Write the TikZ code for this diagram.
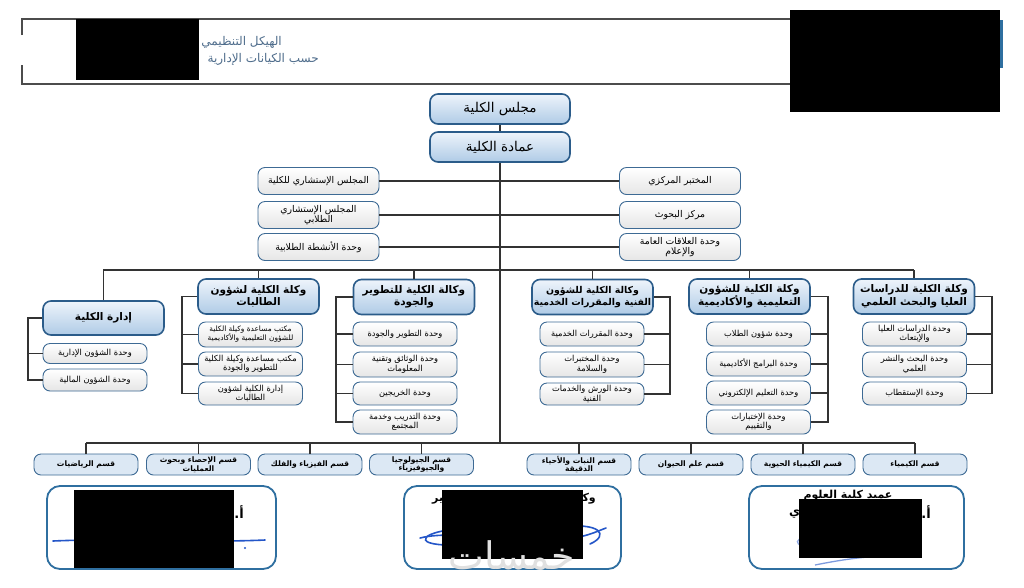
\documentclass[tikz,border=0pt]{standalone}
\usepackage{fontspec}
\newfontfamily\arabicfont[Script=Arabic]{DejaVu Sans}
\TeXXeTstate=1
\newcommand{\AR}[1]{\beginR #1\endR}
\definecolor{dkblue}{HTML}{2B5C8A}
\definecolor{topA}{HTML}{EEF4FB}
\definecolor{topB}{HTML}{AFCBE6}
\definecolor{subblue}{HTML}{3D6A94}
\definecolor{deptfill}{HTML}{DCE8F4}
\definecolor{sigblue}{HTML}{2F6FA0}
\definecolor{headtxt}{HTML}{4F6D8C}
\definecolor{inkblue}{HTML}{2456C8}
\begin{document}
\begin{tikzpicture}[x=1pt,y=-1pt,
  line/.style={draw=black!80, line width=1.1},
  topbox/.style={draw=dkblue, line width=1.6, rounded corners=8, top color=topA, bottom color=topB, minimum width=140, minimum height=30, inner sep=0, font=\arabicfont\fontsize{13.5}{15}\selectfont},
  vbox/.style={draw=dkblue, line width=1.6, rounded corners=8, top color=topA, bottom color=topB, minimum width=121, minimum height=35, align=center, inner sep=0, font=\arabicfont\bfseries\fontsize{10.5}{12.5}\selectfont},
  subbox/.style={draw=subblue, line width=0.9, rounded corners=7, top color=white, bottom color=black!10, minimum width=104, minimum height=24, align=center, inner sep=0, font=\arabicfont\fontsize{8.3}{9.6}\selectfont},
  advbox/.style={subbox, minimum width=121, minimum height=27, font=\arabicfont\fontsize{9.3}{10.6}\selectfont},
  deptbox/.style={draw=subblue, line width=0.9, rounded corners=7, fill=deptfill, minimum width=104, minimum height=21, align=center, inner sep=0, font=\arabicfont\bfseries\fontsize{7.6}{8.6}\selectfont},
  sigbox/.style={draw=sigblue, line width=1.8, rounded corners=13},
  redact/.style={fill=black},
  ink/.style={draw=inkblue, line width=1.6, line cap=round},
  sigtext/.style={font=\arabicfont\bfseries\fontsize{11}{13}\selectfont, inner sep=0}
]
\useasboundingbox (0,0) rectangle (1024,587);
\fill[white] (0,0) rectangle (1024,587);

% ---------- header ----------
\draw[draw=black!70, line width=1.1] (22,35) -- (22,19) -- (792,19);
\draw[draw=black!70, line width=1.1] (22,65) -- (22,84) -- (792,84);
\fill[sigblue] (994,20) rectangle (1003,68);
\node[anchor=east, text=headtxt, inner sep=0, font=\arabicfont\fontsize{12}{14}\selectfont] (h1) at (282,42) {\AR{الهيكل التنظيمي}};
\node[anchor=east, text=headtxt, inner sep=0, font=\arabicfont\fontsize{12}{14}\selectfont] (h2) at (319,59) {\AR{حسب الكيانات الإدارية}};
\fill[redact] (76,19) rectangle (199,80);
\fill[redact] (790,10) rectangle (1000,112);

% ---------- top ----------
\node[topbox] (council) at (500,109) {\AR{مجلس الكلية}};
\node[topbox] (dean) at (500,147) {\AR{عمادة الكلية}};

\node[advbox] (l1) at (318.5,181) {\AR{المجلس الإستشاري للكلية}};
\node[advbox] (l2) at (318.5,215) {\AR{المجلس الإستشاري}\\\AR{الطلابي}};
\node[advbox] (l3) at (318.5,247) {\AR{وحدة الأنشطة الطلابية}};
\node[advbox] (r1) at (680,181) {\AR{المختبر المركزي}};
\node[advbox] (r2) at (680,215) {\AR{مركز البحوث}};
\node[advbox] (r3) at (680,247) {\AR{وحدة العلاقات العامة}\\\AR{والإعلام}};

\coordinate (busL) at (103,270);
\coordinate (busR) at (914,270);
\coordinate (dbusL) at (86,443);
\coordinate (dbusR) at (915,443);
\coordinate (trunkB) at (500,443);

\draw[line] (council) -- (dean);
\draw[line] (dean.south) -- (trunkB);
\draw[line] (l1.east) -- (r1.west);
\draw[line] (l2.east) -- (r2.west);
\draw[line] (l3.east) -- (r3.west);
\draw[line] (busL) -- (busR);

% ---------- vice deans ----------
\node[vbox, minimum height=34] (adm) at (103.5,318) {\AR{إدارة الكلية}};
\node[vbox] (fem) at (258.5,296.5) {\AR{وكلة الكلية لشؤون}\\\AR{الطالبات}};
\node[vbox] (dev) at (414,297) {\AR{وكالة الكلية للتطوير}\\\AR{والجودة}};
\node[vbox, font=\arabicfont\bfseries\fontsize{9.4}{12}\selectfont] (tec) at (592.5,297) {\AR{وكالة الكلية للشؤون}\\\AR{الفنية والمقررات الخدمية}};
\node[vbox] (aca) at (749.5,296.5) {\AR{وكلة الكلية للشؤون}\\\AR{التعليمية والأكاديمية}};
\node[vbox] (grd) at (914,296.5) {\AR{وكلة الكلية للدراسات}\\\AR{العليا والبحث العلمي}};

\foreach \n in {adm,fem,dev,tec,aca,grd} \draw[line] (\n.north) -- (\n.north |- busL);

% admin subs
\node[subbox, minimum height=20] (adm1) at (95,353.5) {\AR{وحدة الشؤون الإدارية}};
\node[subbox, minimum height=22] (adm2) at (95,380) {\AR{وحدة الشؤون المالية}};
\coordinate (admx) at (28,0);
\draw[line] (adm.west) -- (adm.west -| admx) -- (adm2.west -| admx) -- (adm2.west);
\draw[line] (adm1.west -| admx) -- (adm1.west);

% female subs
\node[subbox, minimum height=25, font=\arabicfont\fontsize{7.4}{9}\selectfont] (fem1) at (250.5,334.5) {\AR{مكتب مساعدة وكيلة الكلية}\\\AR{للشؤون التعليمية والأكاديمية}};
\node[subbox] (fem2) at (250.5,364) {\AR{مكتب مساعدة وكيلة الكلية}\\\AR{للتطوير والجودة}};
\node[subbox, minimum height=23] (fem3) at (250.5,393.5) {\AR{إدارة الكلية لشؤون}\\\AR{الطالبات}};
\coordinate (femx) at (182,0);
\draw[line] (fem.west) -- (fem.west -| femx) -- (fem3.west -| femx) -- (fem3.west);
\foreach \n in {fem1,fem2} \draw[line] (\n.west -| femx) -- (\n.west);

% development subs
\node[subbox] (dev1) at (405,334) {\AR{وحدة التطوير والجودة}};
\node[subbox, minimum height=25] (dev2) at (405,364.5) {\AR{وحدة الوثائق وتقنية}\\\AR{المعلومات}};
\node[subbox, minimum height=23] (dev3) at (405,393.5) {\AR{وحدة الخريجين}};
\node[subbox] (dev4) at (405,422) {\AR{وحدة التدريب وخدمة}\\\AR{المجتمع}};
\coordinate (devx) at (336,0);
\draw[line] (dev.west) -- (dev.west -| devx) -- (dev4.west -| devx) -- (dev4.west);
\foreach \n in {dev1,dev2,dev3} \draw[line] (\n.west -| devx) -- (\n.west);

% technical subs
\node[subbox] (tec1) at (592,334) {\AR{وحدة المقررات الخدمية}};
\node[subbox, minimum height=25] (tec2) at (592,364.5) {\AR{وحدة المختبرات}\\\AR{والسلامة}};
\node[subbox, minimum height=22] (tec3) at (592,394) {\AR{وحدة الورش والخدمات}\\\AR{الفنية}};
\coordinate (tecx) at (670,0);
\draw[line] (tec.east) -- (tec.east -| tecx) -- (tec3.east -| tecx) -- (tec3.east);
\foreach \n in {tec1,tec2} \draw[line] (\n.east -| tecx) -- (\n.east);

% academic subs
\node[subbox] (aca1) at (758.5,334) {\AR{وحدة شؤون الطلاب}};
\node[subbox] (aca2) at (758.5,364) {\AR{وحدة البرامج الأكاديمية}};
\node[subbox] (aca3) at (758.5,393) {\AR{وحدة التعليم الإلكتروني}};
\node[subbox] (aca4) at (758.5,422) {\AR{وحدة الإختبارات}\\\AR{والتقييم}};
\coordinate (acax) at (828,0);
\draw[line] (aca.east) -- (aca.east -| acax) -- (aca4.east -| acax) -- (aca4.east);
\foreach \n in {aca1,aca2,aca3} \draw[line] (\n.east -| acax) -- (\n.east);

% graduate subs
\node[subbox] (grd1) at (914.5,334) {\AR{وحدة الدراسات العليا}\\\AR{والإبتعاث}};
\node[subbox, minimum height=25] (grd2) at (914.5,364.5) {\AR{وحدة البحث والنشر}\\\AR{العلمي}};
\node[subbox, minimum height=23] (grd3) at (914.5,393.5) {\AR{وحدة الإستقطاب}};
\coordinate (grdx) at (992,0);
\draw[line] (grd.east) -- (grd.east -| grdx) -- (grd3.east -| grdx) -- (grd3.east);
\foreach \n in {grd1,grd2} \draw[line] (\n.east -| grdx) -- (\n.east);

% ---------- departments ----------
\draw[line] (dbusL) -- (dbusR);
\node[deptbox] (d1) at (86,464.5) {\AR{قسم الرياضيات}};
\node[deptbox] (d2) at (198.5,464.5) {\AR{قسم الإحصاء وبحوث}\\\AR{العمليات}};
\node[deptbox] (d3) at (310,464.5) {\AR{قسم الفيزياء والفلك}};
\node[deptbox] (d4) at (421.5,464.5) {\AR{قسم الجيولوجيا}\\\AR{والجيوفيزياء}};
\node[deptbox] (d5) at (579,464.5) {\AR{قسم النبات والأحياء}\\\AR{الدقيقة}};
\node[deptbox] (d6) at (691,464.5) {\AR{قسم علم الحيوان}};
\node[deptbox] (d7) at (803,464.5) {\AR{قسم الكيمياء الحيوية}};
\node[deptbox] (d8) at (915,464.5) {\AR{قسم الكيمياء}};
\foreach \n in {d1,d2,d3,d4,d5,d6,d7,d8} \draw[line] (\n.north) -- (\n.north |- dbusL);

% ---------- signature boxes ----------
\draw[sigbox] (47,486) rectangle (276,569);
\draw[sigbox] (404,486) rectangle (621,569);
\draw[sigbox] (749,486) rectangle (964,569);

% left signature
\node[sigtext, anchor=east, font=\arabicfont\bfseries\fontsize{13}{15}\selectfont] (s1) at (244,512) {\AR{أ.}};
\draw[ink] (53,541) .. controls (120,538) and (200,543) .. (265,540);
\fill[inkblue] (245,548) circle (1.2);
\fill[redact] (74,490) rectangle (234,568);

% middle signature
\node[sigtext, anchor=east] (s2a) at (596,499) {\AR{وكيل}};
\node[sigtext, anchor=west] (s2b) at (432,499) {\AR{للتطوير}};
\draw[ink] (470,528) .. controls (420,530) and (410,545) .. (450,545);
\draw[ink] (420,538) .. controls (440,533) and (470,535) .. (500,540);
\draw[ink] (560,527) .. controls (600,522) and (610,535) .. (590,544);
\draw[ink] (560,540) .. controls (585,538) and (600,530) .. (606,528);
\fill[redact] (442,490) rectangle (583,559);

% right signature
\node[sigtext] (s3) at (848,496) {\AR{عميد كلية العلوم}};
\node[sigtext, anchor=east, font=\arabicfont\bfseries\fontsize{13}{15}\selectfont] (s4) at (931,512) {\AR{أ.}};
\node[sigtext, anchor=west, font=\arabicfont\bfseries\fontsize{12}{14}\selectfont] (s5) at (789,514) {\AR{ي}};
\draw[draw=inkblue!50, line width=1.3] (830,535) .. controls (800,532) and (785,545) .. (810,547);
\draw[draw=inkblue!60, line width=1.3] (815,565) .. controls (840,560) and (870,555) .. (900,556);
\fill[redact] (799,499) rectangle (922,558);

% watermark
\node[text=black!12, font=\arabicfont\fontsize{38}{40}\selectfont, inner sep=0] (wm) at (512,556) {\AR{خمسات}};
\end{tikzpicture}
\end{document}
